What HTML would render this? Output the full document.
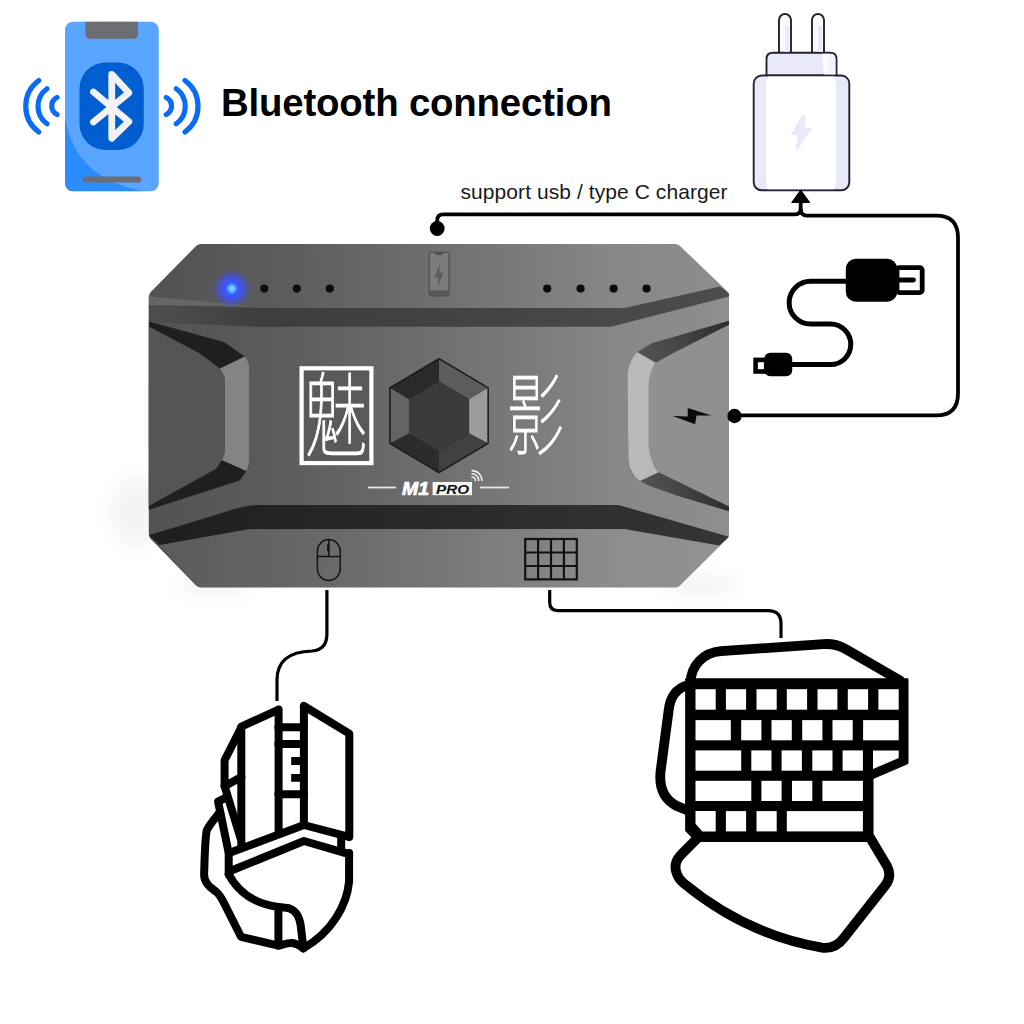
<!DOCTYPE html>
<html lang="en">
<head>
<meta charset="utf-8">
<title>Bluetooth connection</title>
<style>
html,body{margin:0;padding:0;background:#fff}
body{width:1024px;height:1024px;overflow:hidden;position:relative}
svg{position:absolute;left:0;top:0;display:block}
text{font-family:"Liberation Sans","Noto Sans CJK SC",sans-serif}
</style>
</head>
<body>
<svg width="1024" height="1024" viewBox="0 0 1024 1024">
<defs>
<linearGradient id="gBody" x1="148" y1="0" x2="729" y2="0" gradientUnits="userSpaceOnUse">
<stop offset="0" stop-color="#525252"/><stop offset="0.25" stop-color="#5d5d5d"/><stop offset="0.55" stop-color="#737373"/><stop offset="0.8" stop-color="#878787"/><stop offset="1" stop-color="#8e8e8e"/>
</linearGradient>
<linearGradient id="gBandT" x1="148" y1="0" x2="729" y2="0" gradientUnits="userSpaceOnUse">
<stop offset="0" stop-color="#4e4e4e"/><stop offset="0.1" stop-color="#464646"/><stop offset="0.2" stop-color="#3d3d3d"/><stop offset="0.6" stop-color="#444"/><stop offset="1" stop-color="#4c4c4c"/>
</linearGradient>
<linearGradient id="gBandB" x1="148" y1="0" x2="729" y2="0" gradientUnits="userSpaceOnUse">
<stop offset="0" stop-color="#1e1e1e"/><stop offset="0.5" stop-color="#2a2a2a"/><stop offset="1" stop-color="#343434"/>
</linearGradient>
<radialGradient id="gLed" cx="231.8" cy="288.6" r="21" gradientUnits="userSpaceOnUse">
<stop offset="0" stop-color="#7fd8ff"/><stop offset="0.15" stop-color="#58bfff"/><stop offset="0.27" stop-color="#3a5cff"/><stop offset="0.55" stop-color="#3f50f0" stop-opacity="0.85"/><stop offset="0.8" stop-color="#4a50c0" stop-opacity="0.35"/><stop offset="1" stop-color="#5a5a7a" stop-opacity="0"/>
</radialGradient>
<clipPath id="cPhone"><rect x="65" y="21.75" width="93.75" height="169.5" rx="8" ry="8"/></clipPath>
<filter id="fBlur" filterUnits="userSpaceOnUse" x="0" y="380" width="1024" height="300"><feGaussianBlur stdDeviation="9"/></filter>
<linearGradient id="gRecR" x1="637" y1="0" x2="729" y2="0" gradientUnits="userSpaceOnUse"><stop offset="0" stop-color="#555"/><stop offset="0.5" stop-color="#444"/><stop offset="1" stop-color="#2c2c2c"/></linearGradient>
</defs>

<!-- ================= DEVICE ================= -->
<g id="device">
<ellipse cx="136" cy="512" rx="26" ry="36" fill="#000" opacity="0.045" filter="url(#fBlur)"/>
<ellipse cx="700" cy="585" rx="40" ry="8" fill="#000" opacity="0.06" filter="url(#fBlur)"/>
<ellipse cx="215" cy="585" rx="40" ry="8" fill="#000" opacity="0.06" filter="url(#fBlur)"/>
<path d="M201,244 H675 Q678,244 680,246 L727,291 Q729,293 729,296 V534 Q729,537 727,539 L680,585.5 Q678,587.5 675,587.5 H201 Q198,587.5 196,585.5 L150.8,539 Q148.8,537 148.8,534 V297 Q148.8,294 150.8,292 L196,246 Q198,244 201,244 Z" fill="url(#gBody)"/>
<!-- top dark band -->
<path d="M148.8,296.4 L237.7,304.2 Q250,307.5 261,308 L148.8,306.5 Z" fill="#666"/>
<path d="M148.8,305 L230,306.6 Q250,307.6 261,308 H624.5 L720,286.6 L729,293.5 V296.4 L610.8,326.7 H257 L148.8,321.8 Z" fill="url(#gBandT)"/>
<!-- bottom dark band -->
<path d="M148.8,535.2 L225,512 Q245,505 257.2,505 H618.6 L729,536.7 L719.2,545.5 L624.5,528.9 H249.4 L159.5,545 Z" fill="url(#gBandB)"/>
<path d="M159.5,545 L249.4,529.4 H624.5 L719.2,545.5 L678,587.5 H199 Z" fill="#fff" opacity="0.05"/>
<!-- left recess -->
<path d="M148.8,321.5 L224,342 L244.5,356.6 L249.4,368.4 V456.3 L246.4,470.9 L239.6,480.5 L148.8,509.8 Z" fill="#1f1f1f"/>
<path d="M148.8,326.4 L198.6,352.7 L220,368.4 L225,378 V452.3 L222,460 L216.2,468.8 L148.8,506 Z" fill="#555"/>
<path d="M244.5,356.6 Q249.4,362 249.4,370 V456.3 Q249,465 246.4,470.9 L222,460.2 L225,452.3 V378.1 L220,368.4 Z" fill="#848484"/>
<!-- right recess -->
<path d="M729,320.8 L651.8,343.3 L637.1,352 L630.3,362.8 L627.4,378.4 L628.4,462.5 L631,472 L640,481 L649.8,486 L677.2,495.7 L729,511.3 Z" fill="url(#gRecR)"/>
<path d="M729,324.7 L669.4,355 L655.7,362.8 L649.8,372.6 L648,385 V445 L649.8,458.6 L658.6,472.3 L729,506.4 Z" fill="#909090"/>
<path d="M637.1,352 L655.7,362.8 Q649.8,370 648.5,385 V445 Q649.8,462 658.6,472.3 L640,481 Q629,473 628.4,460 L627.4,380 Q627.4,362 637.1,352 Z" fill="#b9b9b9"/>
<!-- bolt -->
<path d="M672.7,415.9 L687.7,416.4 L687.7,408 L711.4,415.5 L696.5,415.5 L695.1,424.3 Z" fill="#0a0a0a"/>
<!-- LED + dots -->
<circle cx="231.8" cy="288.6" r="21" fill="url(#gLed)"/>
<g fill="#0c0c0c">
<circle cx="264.2" cy="288.6" r="4.1"/><circle cx="296.8" cy="288.6" r="4.1"/><circle cx="329.8" cy="288.6" r="4.1"/>
<circle cx="547.2" cy="288.6" r="4.1"/><circle cx="580.6" cy="288.6" r="4.1"/><circle cx="613.6" cy="288.6" r="4.1"/><circle cx="646.6" cy="288.6" r="4.1"/>
</g>

<!-- top port icon -->
<g id="porticon">
<rect x="429.2" y="252.4" width="19.8" height="43.4" rx="1.5" fill="#7c7c7c" stroke="#4e4e4e" stroke-width="1.2"/>
<rect x="429.8" y="290.5" width="18.6" height="5" fill="#555"/>
<rect x="435" y="253" width="8" height="2.2" rx="1" fill="#555"/>
<path d="M439.6,264 L434.6,277.5 L438.4,277 L437.6,287 L443.4,272.6 L439.4,273.2 Z" fill="#5a5a5a"/>
</g>
<!-- logo box + glyphs -->
<g id="logo">
<rect x="301.6" y="368.3" width="69.8" height="94.8" fill="#5a5a5a" stroke="#fff" stroke-width="4.2"/>
<text transform="translate(336,448.5) scale(0.68,1)" text-anchor="middle" font-family="'Noto Sans CJK SC','Noto Sans CJK JP',sans-serif" font-weight="100" font-size="92" fill="#fff" stroke="#fff" stroke-width="1.1">魅</text>
<text transform="translate(535,447.5) scale(0.64,1)" text-anchor="middle" font-family="'Noto Sans CJK SC','Noto Sans CJK JP',sans-serif" font-weight="100" font-size="90" fill="#fff" stroke="#fff" stroke-width="1.1">影</text>
</g>
<!-- hexagon -->
<g id="hex">
<path d="M439,359.6 L487.4,388.3 L487.4,443 L439,471.7 L390.6,443 L390.6,388.3 Z" fill="#1c1c1c" stroke="#1a1a1a" stroke-width="3" stroke-linejoin="round"/>
<path d="M439,359.6 L390.6,388.3 L409,399.2 L439,381.4 Z" fill="#2a2a2a"/>
<path d="M439,359.6 L487.4,388.3 L469.1,399.2 L439,381.4 Z" fill="#5c5c5c"/>
<path d="M487.4,388.3 L487.4,443 L469.1,433.4 L469.1,399.2 Z" fill="#9c9c9c"/>
<path d="M487.4,443 L439,471.7 L439,451.2 L469.1,433.4 Z" fill="#414141"/>
<path d="M439,471.7 L390.6,443 L409,433.4 L439,451.2 Z" fill="#2c2c2c"/>
<path d="M390.6,443 L390.6,388.3 L409,399.2 L409,433.4 Z" fill="#646464"/>
<path d="M439,381.4 L469.1,399.2 L469.1,433.4 L439,451.2 L409,433.4 L409,399.2 Z" fill="#3b3b3b"/>
</g>
<!-- M1 PRO -->
<g id="m1pro">
<rect x="368" y="486.6" width="28" height="1.8" fill="#e6e6e6"/>
<rect x="480" y="486.6" width="29" height="1.8" fill="#e6e6e6"/>
<text x="402" y="495" font-family="'Liberation Sans',sans-serif" font-style="italic" font-weight="bold" font-size="17.5" fill="#fff" stroke="#fff" stroke-width="0.7" textLength="27" lengthAdjust="spacingAndGlyphs">M1</text>
<rect x="432.6" y="482" width="39.4" height="13.2" fill="#f4f4f4"/>
<text x="436" y="493.6" font-family="'Liberation Sans',sans-serif" font-style="italic" font-weight="bold" font-size="12.5" fill="#111" textLength="33" lengthAdjust="spacingAndGlyphs">PRO</text>
<g fill="none" stroke="#eee" stroke-width="1.6" stroke-linecap="round">
<path d="M472,477 A3.5,3.5 0 0 1 475.5,480.5"/>
<path d="M472,473.8 A6.7,6.7 0 0 1 478.7,480.5"/>
<path d="M472,470.6 A9.9,9.9 0 0 1 481.9,480.5"/>
</g>
</g>
<!-- bottom icons -->
<g id="devicons" fill="none" stroke="#121212" stroke-width="1.5">
<rect x="317.4" y="539.5" width="22.8" height="41" rx="11.4" ry="12"/>
<path d="M317.4,556.5 H340.2 M328.8,539.5 V556.5"/>
<path d="M328.2,544 V551" stroke-width="2.2"/>
<g stroke-width="2.2">
<rect x="525.2" y="539" width="51.6" height="40.4"/>
<path d="M538.1,539 V579.4 M551,539 V579.4 M563.9,539 V579.4 M525.2,552.5 H576.8 M525.2,566 H576.8"/>
</g>
</g>
</g>

<!-- ================= PHONE / BLUETOOTH ================= -->
<g id="phone">
<rect x="65" y="21.75" width="93.75" height="169.5" rx="8" ry="8" fill="#5aa5ff"/>
<path d="M65,118 C72,160 100,184 146,191.5 L65,191.5 Z" fill="#2a8cff" clip-path="url(#cPhone)"/>
<path d="M85.5,21.75 H138 V34 Q138,38.75 133.5,38.75 H90 Q85.5,38.75 85.5,34 Z" fill="#6d6e73"/>
<rect x="82.5" y="176.5" width="58.75" height="6" rx="3" fill="#6d6e73"/>
<rect x="79.5" y="62.5" width="64.25" height="87.5" rx="26" ry="26" fill="#005ed1"/>
<path d="M93.5,92 L128.8,121.5 L111.75,138.2 V74.3 L128.8,92.8 L93.5,122" fill="none" stroke="#f2f2f2" stroke-width="6.8" stroke-linecap="round" stroke-linejoin="round"/>
<g fill="none" stroke="#0a6cf6" stroke-width="5.2" stroke-linecap="round">
<path d="M38.75,80.5 A32,32 0 0 0 38.75,132"/>
<path d="M47,88.75 A21.5,21.5 0 0 0 47,123.75"/>
<path d="M57,97.5 A9.5,9.5 0 0 0 57,114.5"/>
<path d="M166.25,97.5 A9.5,9.5 0 0 1 166.25,114.5"/>
<path d="M176.25,88.75 A21.5,21.5 0 0 1 176.25,123.75"/>
<path d="M185,80.5 A32,32 0 0 1 185,132"/>
</g>
</g>
<!-- ================= TEXT ================= -->
<text x="221" y="115.8" font-weight="bold" font-size="38.4" fill="#000" textLength="391" lengthAdjust="spacing">Bluetooth connection</text>
<text x="460.5" y="198.5" font-size="21" fill="#1a1a1a" textLength="267" lengthAdjust="spacing">support usb / type C charger</text>
<!-- ================= CHARGER ================= -->
<g id="charger" stroke="#23232f" stroke-width="1.9" stroke-linejoin="round">
<path d="M779,53 V20 A6,6 0 0 1 791,20 V53 Z" fill="#fbfbff"/>
<path d="M812,53 V20 A6,6 0 0 1 824,20 V53 Z" fill="#fbfbff"/>
<path d="M766.5,75.5 V59 Q766.5,52.7 773,52.7 H830 Q836.5,52.7 836.5,59 V75.5 Z" fill="#e8eafa"/>
<rect x="753.7" y="75.5" width="95.6" height="114.8" rx="8" ry="8" fill="#e8eafa"/>
</g>
<path d="M768,76.5 Q766,80 766,90 V180 Q766,187 768,189.3 H834 Q836,187 836,180 V90 Q836,80 834,76.5 Z" fill="#fff"/>
<path d="M822,53.8 H827 L829,74.5 H824 Z" fill="#fff" opacity="0.9"/><path d="M827,53.8 H830 Q835.4,53.8 835.4,59 V74.5 H829 Z" fill="#f2f3fd"/>
<rect x="785" y="26" width="4" height="26" fill="#e8eafa"/><rect x="818" y="26" width="4" height="26" fill="#e8eafa"/>
<path d="M802.6,115.6 L792,134.4 L798.4,134 L796.6,150 L810.8,128.6 L803.6,129.2 L805.2,115.8 Z" fill="#e8eafa" stroke="#e8eafa" stroke-width="1.5" stroke-linejoin="round"/>
<!-- ================= CONNECTOR LINES ================= -->
<g fill="none" stroke="#000" stroke-width="3.8" stroke-linejoin="round">
<path d="M437.2,228.5 V220.4 Q437.2,214.4 443.2,214.4 H795 Q800.7,214.4 800.7,208.7 V200"/>
<path d="M800.7,208.7 Q800.7,215.6 807,215.6 H936 Q958,215.6 958,237.6 V393.4 Q958,415.4 936,415.4 H734.5"/>
<path d="M326.9,590 V634 Q326.9,650 312,651 Q277,652 277,680 V701" stroke-width="3.2"/>
<path d="M549.7,590 V602.6 Q549.7,610.6 557.7,610.6 H768 Q781,610.6 781,623.6 V638" stroke-width="3.2"/>
</g>
<path d="M800.7,190.4 L809.4,202.4 H792 Z" fill="#000" stroke="#000" stroke-width="1.2" stroke-linejoin="round"/>
<circle cx="437.2" cy="228.5" r="7.4" fill="#000"/>
<circle cx="734.5" cy="416" r="7.2" fill="#000"/>
<!-- ================= USB CABLE ================= -->
<g id="usb">
<rect x="845.8" y="258.8" width="51.4" height="42.9" rx="10" fill="#000"/>
<rect x="897" y="267.6" width="25.2" height="25" rx="2.5" fill="#fff" stroke="#000" stroke-width="4.8"/>
<path d="M897,280 H913.5" stroke="#000" stroke-width="4.8" stroke-linecap="round"/>
<path d="M846,281.2 H810.6 A21.45,21.45 0 0 0 810.6,324.1 H830.5 A20.25,20.25 0 0 1 830.5,364.6 H791" fill="none" stroke="#000" stroke-width="5"/>
<rect x="764.3" y="352.8" width="27.9" height="23.5" rx="6" fill="#000"/>
<rect x="755.6" y="359.9" width="10.6" height="11.6" fill="#fff" stroke="#000" stroke-width="4.6"/>
</g>

<!-- ================= MOUSE ICON ================= -->
<g id="mouse" fill="none" stroke="#000" stroke-width="8" stroke-linejoin="round" stroke-linecap="round">
<path d="M278.6,709.6 L241.3,726.6 V846 M278.6,709.6 V832"/>
<path d="M303.9,706 L349.3,733.6 V836.8 M303.9,706 V825"/>
<path d="M230.5,852.6 L303.9,825 L349.1,836.8"/>
<path d="M231.5,870.5 L303.9,841 L349.1,854.2"/>
<path d="M278.4,727.2 H303.9 M278.4,743.9 H303.9 M278.4,794.2 H303.9"/>
<path d="M241.3,727.3 L224.6,760.3 V786.3 L240.5,838"/>
<path d="M224.6,786.3 L241.3,777"/>
<path d="M226,797.6 L218.1,801.6 L228.5,852"/>
<path d="M228.7,851.7 V874.4"/>
<path d="M341.2,836 V850" stroke-linecap="butt"/>
<path d="M349.1,853 V881.4 C347,905 332,932 303.4,948.2"/>
<path d="M228.7,874.4 C238,892 255,904 277.9,906.9 C283,907.6 286,907.4 289,908.2 C296,910.5 299.6,918 300.7,925.3 L303.4,948.2"/>
<path d="M278.4,906.9 V945.6"/>
<path d="M219,813 C214,820 208.5,826 206.7,830.6 C205,838 204.6,860 204.1,874.4 C204,883 210,887 216.4,892 C220,895 222,899 224,903 L241,936.8 L278.4,945.6 C283,944.6 288,942.6 292,943 C296,943.4 299,945 303.4,948.2"/>
</g>
<path d="M303.9,761 H291.2 M303.9,777.8 H291.2" fill="none" stroke="#000" stroke-width="7.8"/>
<!-- ================= KEYBOARD ICON ================= -->
<g id="keyboard">
<g fill="none" stroke="#000" stroke-width="9.8" stroke-linejoin="round" stroke-linecap="round">
<path d="M690.6,683 C690.6,666 703,652.6 721,651.2 L823.2,644.1 Q835,643.2 845.1,648.7 L900,680.5"/>
<path d="M688,685.2 C676,688 670,698 668.7,710.2 L660.5,772 C659,788 664,799 676,805.6 L688,810.5"/>
<path d="M697.4,838.3 L680.5,855.2 Q672.5,864 677.2,874.6 Q679,879.5 684,883.5 C720,913 765,938 822,947.6 Q835,949.4 843.4,938.5 L884.7,886.1 Q892.6,876.5 887,866 L869.7,836.9"/>
</g>
<path d="M685.7,678.8 H908 V763.6 L873,778.6 V841.5 H696 L685.7,831 Z" fill="#000" stroke="#000" stroke-width="1" stroke-linejoin="round"/>
<g fill="#fff">
<rect x="695.5" y="689.2" width="20.2" height="20.5"/><rect x="725.9" y="689.2" width="20.2" height="20.5"/><rect x="756.5" y="689.2" width="20.2" height="20.5"/><rect x="786.8" y="689.2" width="20.3" height="20.5"/><rect x="817.5" y="689.2" width="19.9" height="20.5"/><rect x="847.8" y="689.2" width="20.3" height="20.5"/><rect x="878.4" y="689.2" width="20.3" height="20.5"/>
<rect x="695.5" y="720.1" width="35.3" height="20.2"/><rect x="741.2" y="720.1" width="20.2" height="20.2"/><rect x="771.5" y="720.1" width="20.3" height="20.2"/><rect x="802.2" y="720.1" width="20.2" height="20.2"/><rect x="832.5" y="720.1" width="20.2" height="20.2"/><rect x="863.1" y="720.1" width="35.6" height="20.2"/>
<rect x="695.5" y="750.4" width="45.7" height="20.3"/><rect x="751.3" y="750.4" width="20.2" height="20.3"/><rect x="781.6" y="750.4" width="20.3" height="20.3"/><rect x="812.3" y="750.4" width="20.2" height="20.3"/><rect x="842.6" y="750.4" width="20.3" height="20.3"/>
<path d="M873,750.4 H898.7 V758.1 L873,769 Z"/>
<rect x="695.5" y="780.8" width="55.8" height="20.2"/><rect x="761.4" y="780.8" width="20.2" height="20.2"/><rect x="792" y="780.8" width="20.3" height="20.2"/><rect x="822.4" y="780.8" width="40.5" height="20.2"/>
<path d="M695.5,811.1 H715.7 V831.4 H702.3 L695.5,823.7 Z"/><rect x="725.9" y="811.1" width="20.2" height="20.3"/><rect x="756.5" y="811.1" width="20.2" height="20.3"/><rect x="786.8" y="811.1" width="76.1" height="20.3"/>
</g>
</g>
</svg>
</body>
</html>
